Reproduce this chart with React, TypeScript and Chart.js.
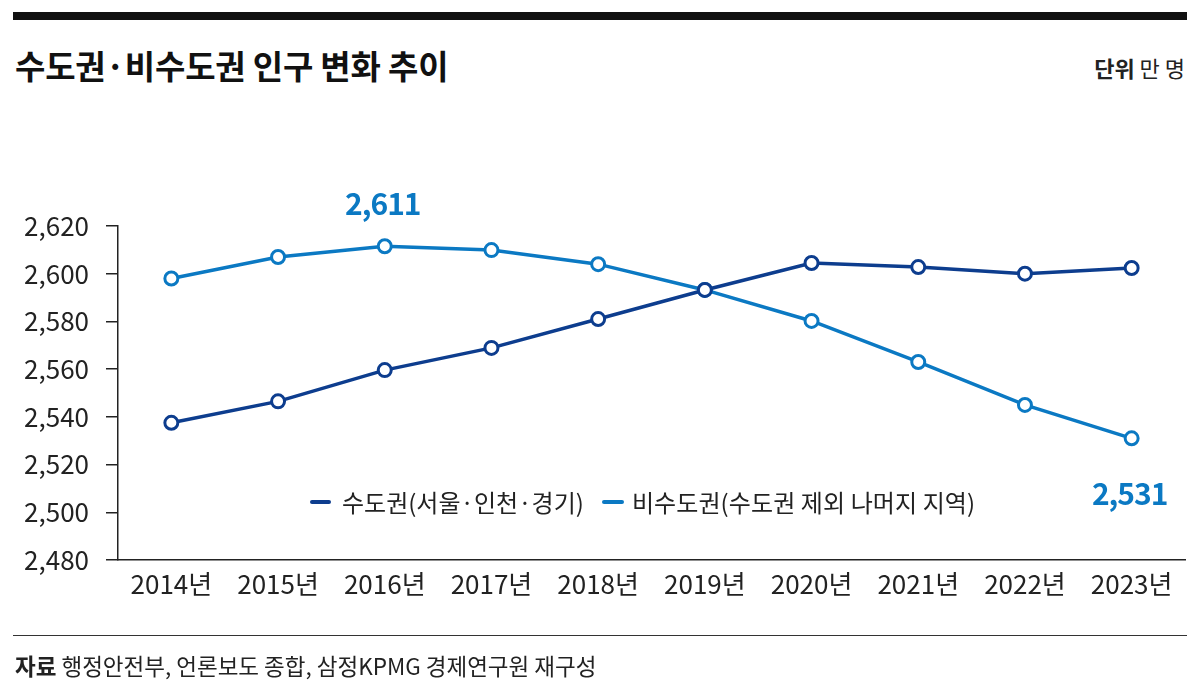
import React, { useEffect, useRef } from "react";
import { Chart, registerables } from "chart.js";

Chart.register(...registerables);

const years = ["2014년", "2015년", "2016년", "2017년", "2018년", "2019년", "2020년", "2021년", "2022년", "2023년"];
const capitalArea = [2537.5, 2546.5, 2559.6, 2568.9, 2581, 2593.2, 2604.5, 2602.8, 2600, 2602.4];
const nonCapitalArea = [2598, 2607, 2611.5, 2609.9, 2604, 2593.2, 2580.2, 2563, 2545, 2531];
const yTicks = [2480, 2500, 2520, 2540, 2560, 2580, 2600, 2620];
const seriesNames = ["수도권(서울·인천·경기)", "비수도권(수도권 제외 나머지 지역)"];
const annotations = [
  { dataset: 1, index: 2, text: "2,611", dy: -43 },
  { dataset: 1, index: 9, text: "2,531", dy: 55 },
];

const DARK = "#0d3d8e";
const LIGHT = "#0b79c3";
const FONT = "'Noto Sans CJK KR', 'Noto Sans', sans-serif";

const annotationPlugin = {
  id: "valueAnnotations",
  afterDatasetsDraw(chart: any) {
    const ctx = chart.ctx;
    ctx.save();
    ctx.font = `700 30px ${FONT}`;
    ctx.fillStyle = LIGHT;
    ctx.textAlign = "center";
    ctx.textBaseline = "middle";
    try { ctx.letterSpacing = "-1px"; } catch (e) {}
    annotations.forEach((a) => {
      const pt = chart.getDatasetMeta(a.dataset).data[a.index];
      if (pt) ctx.fillText(a.text, pt.x - 2, pt.y + a.dy);
    });
    ctx.restore();
  },
};

export default function App() {
  const ref = useRef<HTMLCanvasElement | null>(null);

  useEffect(() => {
    if (!ref.current) return;
    const chart = new Chart(ref.current, {
      type: "line",
      data: {
        labels: years,
        datasets: [
          {
            label: seriesNames[0],
            data: capitalArea,
            borderColor: DARK,
            backgroundColor: "#ffffff",
            borderWidth: 3.5,
            pointRadius: 6.5,
            pointBorderWidth: 3,
            pointBackgroundColor: "#ffffff",
            pointBorderColor: DARK,
            tension: 0,
          },
          {
            label: seriesNames[1],
            data: nonCapitalArea,
            borderColor: LIGHT,
            backgroundColor: "#ffffff",
            borderWidth: 3.5,
            pointRadius: 6.5,
            pointBorderWidth: 3,
            pointBackgroundColor: "#ffffff",
            pointBorderColor: LIGHT,
            tension: 0,
          },
        ],
      },
      options: {
        responsive: false,
        animation: false,
        layout: { padding: { left: 0, right: 15, top: 226, bottom: 83 } },
        plugins: {
          legend: { display: false },
          tooltip: { enabled: false },
        },
        scales: {
          x: {
            offset: true,
            grid: { display: true, drawOnChartArea: false, drawTicks: false },
            border: { display: true, color: "#222", width: 1.5 },
            ticks: {
              color: "#222",
              font: { family: FONT, size: 26 },
              padding: 9,
              maxRotation: 0,
              autoSkip: false,
            },
            afterFit: (s: any) => { s.height = 50; },
          },
          y: {
            min: yTicks[0],
            max: yTicks[yTicks.length - 1],
            afterBuildTicks: (s: any) => { s.ticks = yTicks.map((v) => ({ value: v })); },
            grid: { display: true, drawOnChartArea: false, drawTicks: true, tickLength: 12, color: "#222", lineWidth: 1.5 },
            border: { display: true, color: "#222", width: 1.5 },
            ticks: {
              color: "#222",
              font: { family: FONT, size: 26 },
              padding: 17,
              callback: (v: any) => Number(v).toLocaleString("en-US"),
            },
            afterFit: (s: any) => { s.width = 118; },
          },
        },
      },
      plugins: [annotationPlugin],
    });
    return () => chart.destroy();
  }, []);

  const text = (style: React.CSSProperties, children: React.ReactNode) => (
    <div style={{ position: "absolute", whiteSpace: "nowrap", fontFamily: FONT, color: "#111", ...style }}>{children}</div>
  );

  return (
    <div style={{ position: "fixed", left: 0, top: 0, width: 1200, height: 693, background: "#fff", overflow: "hidden" }}>
      <div style={{ position: "absolute", left: 13, top: 12, width: 1174, height: 8, background: "#111" }} />
      {text({ left: 15, top: 42, fontSize: 33, fontWeight: 700, letterSpacing: "-0.2px", lineHeight: "46px" }, "수도권·비수도권 인구 변화 추이")}
      {text({ right: 15, top: 51, fontSize: 22, lineHeight: "32px", color: "#222" }, <><span style={{ fontWeight: 700 }}>단위</span> 만 명</>)}
      <canvas ref={ref} width={1200} height={693} style={{ position: "absolute", left: 0, top: 0, width: 1200, height: 693 }} />
      <div style={{ position: "absolute", left: 310, top: 485, display: "flex", alignItems: "center", fontFamily: FONT, fontSize: 24, color: "#222", lineHeight: "34px", whiteSpace: "nowrap" }}>
        <span style={{ display: "inline-block", width: 21, height: 4, borderRadius: 2, background: DARK, marginRight: 11 }} />
        <span style={{ letterSpacing: "0px" }}>{seriesNames[0]}</span>
        <span style={{ display: "inline-block", width: 22, height: 4, borderRadius: 2, background: LIGHT, marginLeft: 18, marginRight: 8 }} />
        <span style={{ letterSpacing: "0.1px" }}>{seriesNames[1]}</span>
      </div>
      <div style={{ position: "absolute", left: 13, top: 635, width: 1174, height: 1, background: "#333" }} />
      {text({ left: 15, top: 649, fontSize: 22.5, lineHeight: "32px", color: "#222" }, <><span style={{ fontWeight: 700 }}>자료</span> 행정안전부, 언론보도 종합, 삼정KPMG 경제연구원 재구성</>)}
    </div>
  );
}
